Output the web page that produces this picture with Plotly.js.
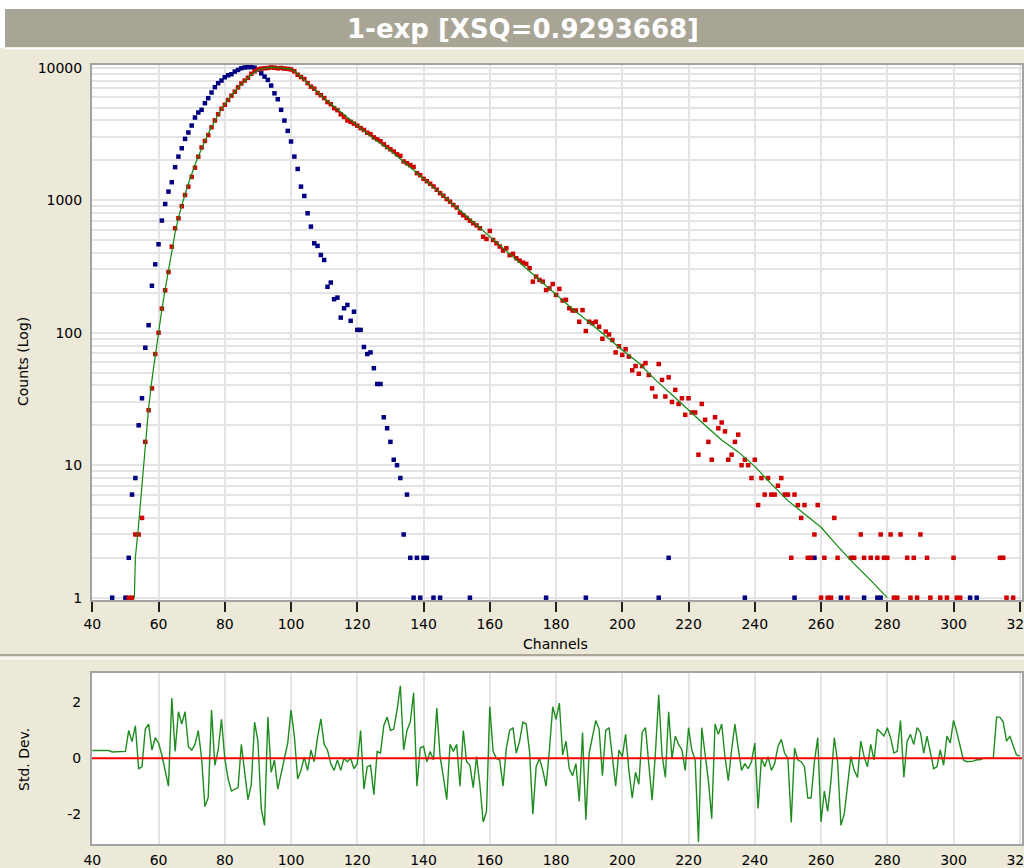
<!DOCTYPE html>
<html>
<head>
<meta charset="utf-8">
<script src="https://cdn.plot.ly/plotly-3.0.1.min.js"></script>
<style>
  html, body { margin: 0; padding: 0; background: #ECE9D8; }
  #chart { width: 1024px; height: 868px; }
</style>
</head>
<body>
<div id="chart"></div>
<script>
// Measured decay (red), instrument response (blue), single-exponential fit (green)
const redCh = [51,52,53,54,55,56,57,58,59,60,
  61,62,63,64,65,66,67,68,69,70,
  71,72,73,74,75,76,77,78,79,80,
  81,82,83,84,85,86,87,88,89,90,
  91,92,93,94,95,96,97,98,99,100,
  101,102,103,104,105,106,107,108,109,110,
  111,112,113,114,115,116,117,118,119,120,
  121,122,123,124,125,126,127,128,129,130,
  131,132,133,134,135,136,137,138,139,140,
  141,142,143,144,145,146,147,148,149,150,
  151,152,153,154,155,156,157,158,159,160,
  161,162,163,164,165,166,167,168,169,170,
  171,172,173,174,175,176,177,178,179,180,
  181,182,183,184,185,186,187,188,189,190,
  191,192,193,194,195,196,197,198,199,200,
  201,202,203,204,205,206,207,208,209,210,
  211,212,213,214,215,216,217,218,219,220,
  221,222,223,224,225,226,227,228,229,230,
  231,232,233,234,235,236,237,238,239,240,
  241,242,243,244,245,246,247,248,249,250,
  251,252,253,254,255,256,257,258,259,260,
  261,262,263,264,265,268,269,270,272,273,
  275,277,278,279,280,281,282,283,284,286,
  287,288,289,290,292,293,296,298,300,301,
  302,314,315,316,318];
const redCounts = [1,1,3,3,4,15,26,38,69,100,
  152,209,287,446,614,730,900,1094,1265,1500,
  1760,2130,2500,2800,3100,3550,4000,4450,4900,5250,
  5700,6150,6590,7100,7600,8000,8400,9000,9400,9720,
  9850,9900,9950,10050,10000,9900,9950,9850,9800,9700,
  9400,8850,8500,8200,7650,7200,6950,6450,6200,5900,
  5500,5300,4950,4780,4450,4250,4000,3900,3780,3650,
  3500,3390,3230,3150,2980,2880,2790,2640,2520,2420,
  2330,2220,2160,1960,1900,1840,1780,1600,1545,1450,
  1390,1330,1270,1200,1130,1080,1020,975,920,880,
  805,770,735,700,670,645,614,530,510,586,
  501,473,447,417,434,385,394,365,350,338,
  331,307,243,265,250,243,210,216,233,193,
  214,175,177,153,147,147,121,148,103,121,
  118,121,111,90,102,97,88,71,79,68,
  75,66,52,56,49,56,59,48,38,33,
  58,44,33,46,30,37,29,32,24,32,
  25,25,12,29,22,15,11,23,19,21,
  18,11,12,15,17,10,11,10,8,11,
  5,8,6,8,6,6,7,8,6,6,
  2,6,5,4,5,2,2,3,5,1,
  2,1,1,4,2,1,2,2,3,2,
  2,2,3,2,2,3,1,1,3,2,
  1,2,1,3,2,1,1,1,2,1,
  1,2,2,1,1];

const blueCh = [46,50,51,52,53,54,55,56,57,58,59,60,
  61,62,63,64,65,66,67,68,69,70,
  71,72,73,74,75,76,77,78,79,80,
  81,82,83,84,85,86,87,88,89,90,
  91,92,93,94,95,96,97,98,99,100,
  101,102,103,104,105,106,107,108,109,110,
  111,112,113,114,115,116,117,118,119,120,
  121,122,123,124,125,126,127,128,129,130,
  131,132,133,134,135,136,137,138,139,140,
  141,143,145,154,177,189,211,214,237,252,
  258,266,273,277,278,305,307];
const blueCounts = [1,1,2,6,8,20,32,77,114,226,328,465,
  702,936,1161,1367,1775,2135,2467,2903,3243,3661,
  4207,4590,4808,5400,5890,6500,7130,7640,8000,8470,
  8770,8930,9350,9620,9900,10050,10100,10100,10000,9720,
  9070,8570,8090,7330,6410,5780,4808,3990,3334,2773,
  2135,1722,1267,1077,797,632,473,452,386,354,
  222,239,179,184,130,153,162,123,144,105,
  105,78,69,71,54,41,41,23,19,15,
  11,10,8,3,6,2,1,2,1,2,
  2,1,1,1,1,1,1,2,1,1,
  2,1,1,1,1,1,1];

const fitCh = [52.7,53,54,55,56,57,58,59,60,
  61,62,63,64,65,66,67,68,69,70,
  71,72,73,74,75,76,77,78,79,80,
  81,82,83,84,85,86,87,88,89,90,
  91,92,93,94,95,96,97,98,99,100,
  101,102,103,104,105,106,107,108,109,110,
  112,114,116,118,120,125,130,135,140,145,
  150,155,160,165,170,175,180,185,190,195,
  200,205,210,215,220,225,230,235,240,245,
  250,255,260,265,270,275,280];
const fitCounts = [1,2.0,3.6,7.0,15,27,44,68,103,
  150,212,295,420,570,740,920,1110,1330,1580,
  1850,2140,2460,2800,3180,3570,3980,4420,4880,5320,
  5750,6200,6620,7050,7500,7950,8400,8850,9250,9550,
  9780,9920,10000,10050,10060,10040,9980,9900,9800,9770,
  9440,9020,8550,8090,7660,7240,6860,6490,6170,5870,
  5350,4880,4450,4060,3715,2904,2370,1862,1445,1135,
  881,684,531,412,324,251,195,151,120,94,
  74,59,44,34,26,20,15.5,12.6,9.8,7.2,
  5.4,4.3,3.4,2.45,1.8,1.35,1];

// Weighted residuals, one value per channel starting at resStart
const resStart = 40;
const resValues = [0.28,0.28,0.28,0.28,0.28,0.28,0.23,0.23,0.23,0.23,
  0.25,1.0,0.6,1.17,-0.37,-0.3,1.05,1.23,0.3,0.74,
  0.55,0.12,-0.43,-1.0,2.16,0.25,1.67,1.23,1.67,0.43,
  0.3,0.5,1.0,0,-1.73,-1.4,1.73,-0.25,0.3,1.4,
  0,-0.74,-1.17,-1.1,-1.05,0.5,-0.43,-1.48,-0.93,1.3,
  0.62,-1.8,-2.4,1.48,-0.5,-0.06,-1.1,-0.55,-0.12,0.55,
  1.73,0.8,-0.74,-0.43,0.04,-0.43,0.3,-0.12,0.74,1.42,
  0.5,0.3,-0.19,-0.43,-0.06,-0.43,0,-0.12,0,-0.37,
  -0.19,1.0,-1.1,-0.3,-0.25,-1.3,0.25,0.19,1.17,1.48,
  1.0,1.05,1.73,2.6,0.3,1.0,1.3,2.35,-1.0,0.37,
  0.43,-0.12,0.25,-0.06,1.8,0.06,-0.68,-1.48,0.5,0.25,
  0.5,-1.0,1.0,-0.12,-0.25,-1.05,0.06,-0.93,-2.28,-1.9,
  1.85,0.25,0,-0.06,-1.0,0.37,1.0,1.1,0.19,0.62,
  1.3,1.23,0.25,-2.0,-0.3,0,-0.43,-1.0,0.3,1.85,
  1.4,1.98,0.12,0.62,-0.37,-0.62,-0.19,-1.54,0.93,-2.2,
  0.19,0.8,1.36,1.05,-0.62,1.0,1.1,0.06,-1.0,0.3,
  0.06,0.86,-0.43,-1.42,-0.5,-0.93,0.93,1.1,-0.19,-1.5,
  0.19,2.28,0.12,-0.68,1.67,0,0.8,0.5,0.3,-0.43,
  1.1,0.3,-0.06,-3.0,1.1,0.06,-0.8,-2.16,1.23,0.86,
  1.23,0.06,-0.8,0.3,1.23,0.37,-0.43,-0.19,-0.37,-0.12,
  0.55,-1.8,0,-0.3,0.06,-0.43,-0.19,0.43,0.68,0.19,
  0,-2.3,0.37,-0.06,-0.12,-0.3,-1.42,-1.42,-0.12,0.74,
  -2.28,-1.17,-1.9,-0.8,0.74,-0.12,-2.4,-2.0,-1.0,0.06,
  -0.43,-0.68,0.62,0.06,-0.3,0.5,-0.06,1.05,0.93,0.8,
  1.1,0.74,0.19,0.25,1.36,-0.68,0.62,0.86,0.5,1.1,
  0.93,0.19,0.8,0.25,-0.37,-0.3,0.3,-0.25,0.8,0.55,
  1.36,0.93,0.43,-0.06,-0.12,-0.1,-0.1,-0.05,-0.05,0,
  0,0,0,1.48,1.48,1.3,0.62,0.8,0.43,0.12,
  0.09];
const resCh = resValues.map((v, i) => resStart + i);

const xTicks = [40,60,80,100,120,140,160,180,200,220,240,260,280,300,320];
const decades = [1,10,100,1000,10000];
const logGridVals = [];
const logGridText = [];
decades.slice(0, 4).forEach(d => {
  for (let k = 1; k <= 9; k++) {
    logGridVals.push(d * k);
    logGridText.push(k === 1 ? String(d) : '');
  }
});
logGridVals.push(10000); logGridText.push('10000');
const resTicks = [-2, 0, 2];

// page geometry (pixels) converted to paper fractions
const W = 1024, H = 868;
const px = x => x / W;
const py = y => 1 - y / H;

const tickFont = {family: 'DejaVu Sans, Verdana, sans-serif', size: 14, color: '#000'};
const gridCol = '#E4E4E4';
const frameCol = '#A3A3A3';

const traces = [
  {x: blueCh, y: blueCounts, type: 'scatter', mode: 'markers', xaxis: 'x', yaxis: 'y',
   marker: {symbol: 'square', size: 4.5, color: '#000080'}, hoverinfo: 'x+y'},
  {x: redCh, y: redCounts, type: 'scatter', mode: 'markers', xaxis: 'x', yaxis: 'y',
   marker: {symbol: 'square', size: 4.5, color: '#D00000'}, hoverinfo: 'x+y'},
  {x: fitCh, y: fitCounts, type: 'scatter', mode: 'lines', xaxis: 'x', yaxis: 'y',
   line: {color: '#108A10', width: 1.2}, hoverinfo: 'x+y'},
  {x: resCh, y: resValues, type: 'scatter', mode: 'lines', xaxis: 'x2', yaxis: 'y2',
   line: {color: '#1E8C1E', width: 1.4}, hoverinfo: 'x+y'}
];

const xDomain = [px(92), px(1022)];
const xRange = [39.91, 320.67];

const layout = {
  width: W, height: H,
  margin: {l: 0, r: 0, t: 0, b: 0},
  paper_bgcolor: '#ECE9D8',
  plot_bgcolor: '#FFFFFF',
  showlegend: false,
  xaxis: {
    domain: xDomain, range: xRange, anchor: 'y',
    tickvals: xTicks, ticks: 'outside', ticklen: 10, tickwidth: 2, tickcolor: '#222',
    tickfont: tickFont, ticklabeloverflow: 'allow',
    showgrid: true, gridcolor: gridCol, gridwidth: 2,
    showline: true, mirror: true, linecolor: frameCol, linewidth: 2, zeroline: false
  },
  yaxis: {
    domain: [py(600), py(65)], type: 'log', range: [-0.0174, 4.0204], anchor: 'x',
    tickvals: logGridVals, ticktext: logGridText, ticks: '', tickfont: tickFont,
    ticklabelstandoff: 5,
    showgrid: true, gridcolor: gridCol, gridwidth: 2,
    showline: true, mirror: true, linecolor: frameCol, linewidth: 2, zeroline: false
  },
  xaxis2: {
    domain: xDomain, range: xRange, anchor: 'y2',
    tickvals: xTicks, ticks: '', tickfont: tickFont, ticklabelstandoff: 2,
    ticklabeloverflow: 'allow',
    showgrid: true, gridcolor: gridCol, gridwidth: 2,
    showline: true, mirror: true, linecolor: frameCol, linewidth: 2, zeroline: false
  },
  yaxis2: {
    domain: [py(844), py(673)], range: [-3.07, 3.06], anchor: 'x2',
    tickvals: resTicks, ticktext: ['-2', '0', '2'], ticks: '', tickfont: tickFont,
    ticklabelstandoff: 6, showgrid: false,
    showline: true, mirror: true, linecolor: frameCol, linewidth: 2, zeroline: false
  },
  shapes: [
    {type: 'rect', xref: 'paper', yref: 'paper', x0: 0, x1: 1, y0: py(9), y1: 1,
     fillcolor: '#FFFFFF', line: {width: 0}, layer: 'below'},
    {type: 'rect', xref: 'paper', yref: 'paper', x0: 0, x1: px(5), y0: py(48), y1: 1,
     fillcolor: '#FFFFFF', line: {width: 0}, layer: 'below'},
    {type: 'rect', xref: 'paper', yref: 'paper', x0: px(5), x1: 1, y0: py(47), y1: py(9),
     fillcolor: '#A8A596', line: {width: 0}, layer: 'below'},
    {type: 'line', xref: 'paper', yref: 'paper', x0: px(5), x1: 1, y0: py(48.5), y1: py(48.5),
     line: {color: '#FFFFFF', width: 1.5}, layer: 'below'},
    {type: 'line', xref: 'paper', yref: 'paper', x0: 0, x1: 1, y0: py(655), y1: py(655),
     line: {color: '#ACA899', width: 2}, layer: 'below'},
    {type: 'line', xref: 'paper', yref: 'paper', x0: 0, x1: 1, y0: py(658.5), y1: py(658.5),
     line: {color: '#FFFFFF', width: 1.5}, layer: 'below'},
    {type: 'line', xref: 'x2 domain', yref: 'y2', x0: 0, x1: 1, y0: 0, y1: 0,
     line: {color: '#FF0000', width: 2}, layer: 'above'}
  ],
  annotations: [
    {text: '<b>1-exp [XSQ=0.9293668]</b>', xref: 'paper', yref: 'paper',
     x: px(523), y: py(29), xanchor: 'center', yanchor: 'middle', showarrow: false,
     font: {family: 'DejaVu Sans, Verdana, sans-serif', size: 26, color: '#FFFFFF'}},
    {text: 'Channels', xref: 'paper', yref: 'paper',
     x: px(555), y: py(644), xanchor: 'center', yanchor: 'middle', showarrow: false,
     font: tickFont},
    {text: 'Counts (Log)', xref: 'paper', yref: 'paper', textangle: -90,
     x: px(23), y: py(362), xanchor: 'center', yanchor: 'middle', showarrow: false,
     font: tickFont},
    {text: 'Std. Dev.', xref: 'paper', yref: 'paper', textangle: -90,
     x: px(24), y: py(760), xanchor: 'center', yanchor: 'middle', showarrow: false,
     font: tickFont}
  ]
};

Plotly.newPlot('chart', traces, layout, {staticPlot: true, displayModeBar: false});
</script>
</body>
</html>
